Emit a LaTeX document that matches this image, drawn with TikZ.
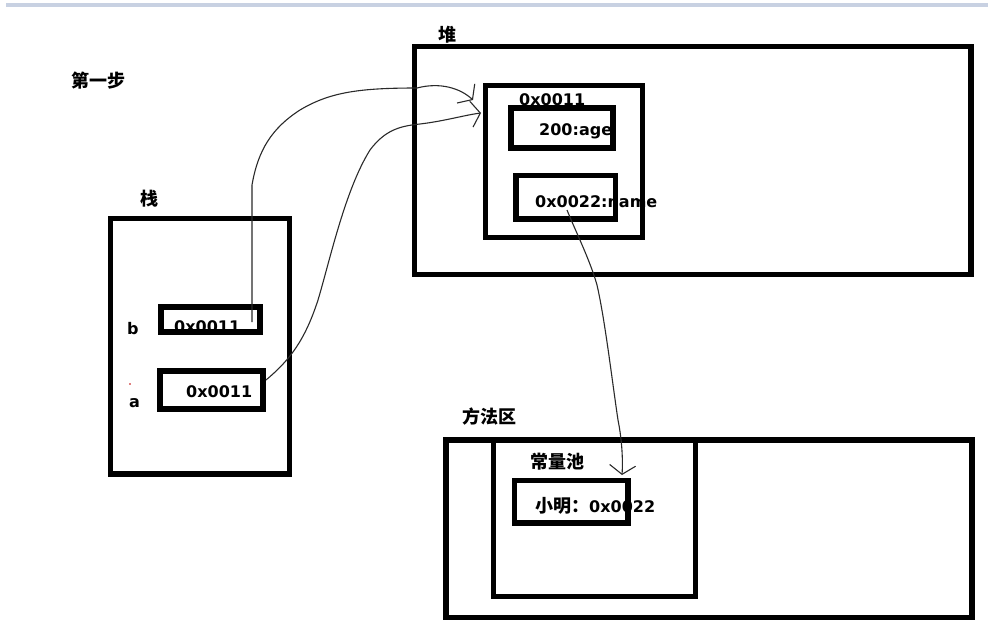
\documentclass[tikz,border=0pt]{standalone}
\usepackage{fontspec}
\setmainfont{DejaVu Sans}
\newfontfamily\lat{DejaVu Sans}
\newfontfamily\cjk{Noto Sans CJK SC}
\usetikzlibrary{arrows.meta}
\definecolor{bandc}{HTML}{C8D1E2}
\definecolor{linec}{HTML}{2A2A2A}
\tikzset{
  box/.style={draw=black, line width=5.7pt, inner sep=0pt, outer sep=0pt},
  lbl/.style={inner sep=0pt, anchor=base west, font=\lat\bfseries\fontsize{16}{16}\selectfont},
  clbl/.style={inner sep=0pt, anchor=center, font=\cjk\bfseries\fontsize{18}{18}\selectfont},
  conn/.style={draw=linec, line width=1.1pt, -{Straight Barb[length=9pt,width=26pt,line width=1.1pt]}}
}
\begin{document}
\begin{tikzpicture}[x=1pt,y=-1pt]
\useasboundingbox (0,0) rectangle (988,643);
\fill[bandc] (6,3.3) rectangle (988,6.8);

% texts (drawn first, boxes go over them)
\node[clbl] (step) at (98,81) {第一步};
\node[clbl] (heaplbl) at (447,34.5) {堆};
\node[clbl] (stacklbl) at (149.5,199) {栈};
\node[clbl] (methodlbl) at (489,417) {方法区};
\node[clbl] (poollbl) at (557,462) {常量池};
\node[lbl] (objaddr) at (519,105) {0x0011};
\node[lbl] (agetxt) at (539,135) {200:age};
\node[lbl] (nametxt) at (535,207) {0x0022:name};
\node[lbl] (blbl) at (127,334) {b};
\node[lbl] (btxt) at (174,332) {0x0011};
\node[lbl] (albl) at (129,407) {a};
\node[lbl] (atxt) at (186,397) {0x0011};
\node[inner sep=0pt, anchor=base west] (xmtxt) at (535,512) {{\cjk\bfseries\fontsize{18}{18}\selectfont 小明：}{\lat\bfseries\fontsize{16}{16}\selectfont 0x0022}};
\fill[red!75!black] (130,384) circle (0.8);

% boxes
\node[box, minimum width=556.5pt, minimum height=228pt] (heap) at (692.75,160.5) {};
\node[box, minimum width=157pt, minimum height=152pt] (obj) at (564,161.5) {};
\node[box, minimum width=102pt, minimum height=40pt] (agebox) at (562,128) {};
\node[box, minimum width=99.5pt, minimum height=43.5pt] (namebox) at (565.75,197.25) {};
\node[box, minimum width=179pt, minimum height=255.5pt] (stack) at (200,346.25) {};
\node[box, minimum width=99pt, minimum height=25pt] (bbox) at (210.5,319.5) {};
\node[box, minimum width=103pt, minimum height=38pt] (abox) at (211.5,390) {};
\node[box, minimum width=526pt, minimum height=177.5pt] (method) at (709,528.75) {};
\node[box, minimum width=202pt, minimum height=156.5pt] (pool) at (594.5,518.25) {};
\node[box, minimum width=113.5pt, minimum height=42.5pt] (xmbox) at (571.25,501.75) {};

% connector end points
\coordinate (bstart) at (252,322);
\coordinate (bbend) at (252,185);
\coordinate (tip1) at (473,100);
\coordinate (astart) at (266,380);
\coordinate (tip2) at (481,113);
\coordinate (nstart) at (567,210);
\coordinate (tip3) at (622,475);

\draw[conn] (bstart) -- (bbend)
  .. controls (258,150) and (272,128) .. (300,110)
  .. controls (330,92) and (360,88) .. (417,88)
  .. controls (440,82) and (460,88) .. (tip1);
\draw[conn] (astart)
  .. controls (290,360) and (305,340) .. (318,300)
  .. controls (330,260) and (345,190) .. (370,150)
  .. controls (385,130) and (400,126) .. (420,124)
  .. controls (445,121) and (465,115) .. (tip2);
\draw[conn] (nstart)
  .. controls (575,230) and (590,260) .. (597,285)
  .. controls (605,320) and (612,380) .. (618,420)
  .. controls (622,440) and (623,460) .. (tip3);
\end{tikzpicture}
\end{document}
